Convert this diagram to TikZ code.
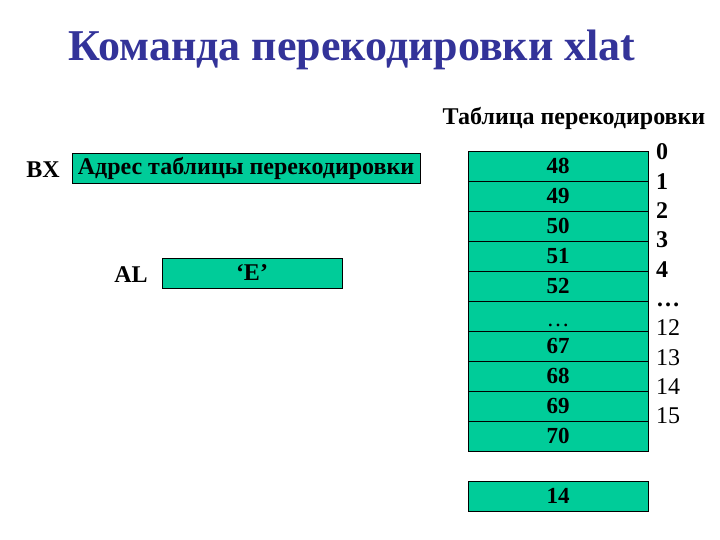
\documentclass[tikz,border=0pt]{standalone}
\usepackage{fontspec}
\setmainfont{Liberation Serif}
\usetikzlibrary{positioning}
\definecolor{cellgreen}{RGB}{0,204,153}
\definecolor{titleblue}{RGB}{51,51,153}

\begin{document}
\begin{tikzpicture}[x=1pt,y=1pt,node distance=30pt,
    cell/.style={rectangle,draw,fill=cellgreen,minimum width=180pt,minimum height=30pt,inner sep=0pt,font=\bfseries\fontsize{23}{23}\selectfont},
    regbox/.style={rectangle,draw,fill=cellgreen,minimum height=30pt,inner sep=0pt,font=\bfseries\fontsize{24}{24}\selectfont},
    regname/.style={font=\bfseries\fontsize{24}{24}\selectfont},
    idx/.style={inner sep=0pt,text width=30pt,align=left,text height=16pt,text depth=0pt,font=\fontsize{24}{24}\selectfont},
    idxb/.style={idx,font=\bfseries\fontsize{24}{24}\selectfont}]
    \useasboundingbox (0,0) rectangle (720,540);

    \node (title) at (352,490) {\color{titleblue}\bfseries\fontsize{44}{44}\selectfont Команда перекодировки xlat};
    \node (tabcap) at (574,422) {\bfseries\fontsize{24}{24}\selectfont Таблица перекодировки};

    % registers
    \node [regname](bx) at (43,370) {BX};
    \node [regbox, minimum width=348pt](addr) at (246,372) {Адрес таблицы перекодировки};
    \node [regname](al) at (131,265) {AL};
    \node [regbox, minimum width=180pt](chr) at (252,267) {‘E’};

    % table
    \node [cell](r48) at (558,374) {48};
    \node [cell](r49) [below of=r48] {49};
    \node [cell](r50) [below of=r49] {50};
    \node [cell](r51) [below of=r50] {51};
    \node [cell](r52) [below of=r51] {52};
    \node [cell, text height=8pt, text depth=0pt](rdots) [below of=r52] {\raisebox{-7pt}{\mdseries\ldots}};
    \node [cell](r67) [below of=rdots] {67};
    \node [cell](r68) [below of=r67] {68};
    \node [cell](r69) [below of=r68] {69};
    \node [cell](r70) [below of=r69] {70};

    \node [cell](res) at (558,44) {14};

    % indices
    \node [idxb](i0) at (671,388) {0};
    \node [idxb](i1) at (671,358.7) {1};
    \node [idxb](i2) at (671,329.4) {2};
    \node [idxb](i3) at (671,300.1) {3};
    \node [idxb](i4) at (671,270.8) {4};
    \node [idxb](idots) at (671,241.5) {\ldots};
    \node [idx](i12) at (671,212.2) {12};
    \node [idx](i13) at (671,182.9) {13};
    \node [idx](i14) at (671,153.6) {14};
    \node [idx](i15) at (671,124.3) {15};
\end{tikzpicture}
\end{document}
